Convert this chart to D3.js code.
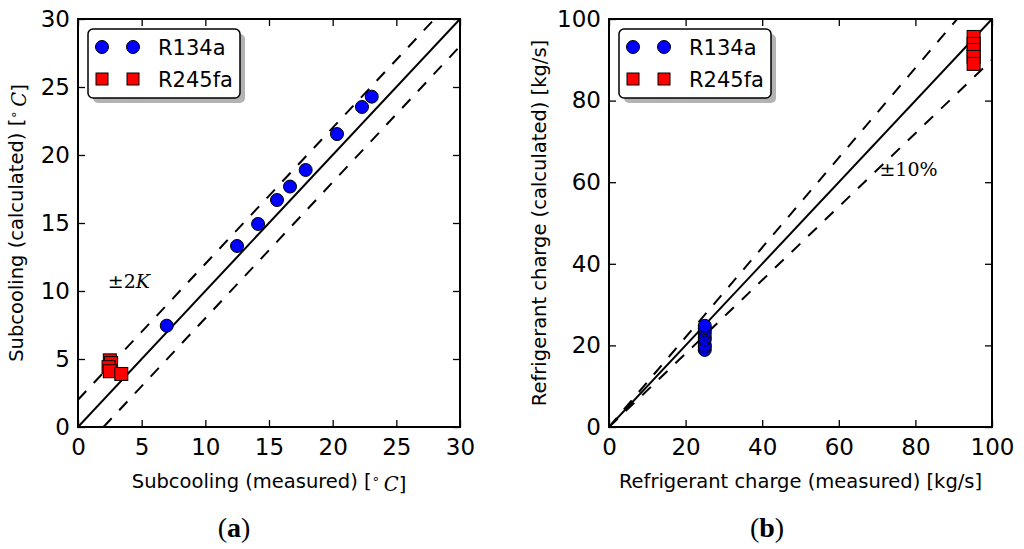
<!DOCTYPE html>
<html>
<head>
<meta charset="utf-8">
<script src="https://cdn.jsdelivr.net/npm/d3@7"></script>
<style>
  body { margin: 0; background: #fff; }
  svg { display: block; }
  text { font-family: "DejaVu Sans", sans-serif; }
</style>
</head>
<body>
<div id="chart"></div>
<script>
// panel (a): subcooling, measured vs calculated [°C]
var subR134aMeas = [6.97, 12.49, 14.14, 15.63, 16.65, 17.88, 20.34, 22.30, 23.07];
var subR134aCalc = [7.45, 13.31, 14.93, 16.69, 17.68, 18.90, 21.54, 23.53, 24.29];
var subR245faMeas = [2.5, 2.6, 2.4, 2.5, 3.4];
var subR245faCalc = [4.9, 4.7, 4.4, 4.1, 3.9];
var subTicks = [0, 5, 10, 15, 20, 25, 30];

// panel (b): refrigerant charge, measured vs calculated [kg/s]
var chgR134aMeas = [25, 25, 25, 25, 25, 25, 25, 25, 25];
var chgR134aCalc = [18.9, 19.6, 20.1, 21.4, 22.0, 22.9, 23.6, 24.2, 24.8];
var chgR245faMeas = [95.2, 95.2, 95.2, 95.2, 95.2];
var chgR245faCalc = [95.6, 93.9, 92.4, 90.7, 89.0];
var chgTicks = [0, 20, 40, 60, 80, 100];

var seriesNames = ["R134a", "R245fa"];

var svgWidth = 1024;
var svgHeight = 549;

var svg = d3.select("#chart")
  .append("svg")
  .attr("width", svgWidth)
  .attr("height", svgHeight);

var plotTop = 19, plotBottom = 427;

function drawPanel(opt) {
  var x = d3.scaleLinear().domain(opt.domain).range([opt.left, opt.right]);
  var y = d3.scaleLinear().domain(opt.domain).range([plotBottom, plotTop]);
  var g = svg.append("g");

  // clip to axes area
  var clipId = "clip-" + opt.id;
  g.append("clipPath").attr("id", clipId)
    .append("rect")
    .attr("x", opt.left).attr("y", plotTop)
    .attr("width", opt.right - opt.left).attr("height", plotBottom - plotTop);

  var plot = g.append("g").attr("clip-path", "url(#" + clipId + ")");

  // reference lines
  var lineGen = d3.line().x(d => x(d[0])).y(d => y(d[1]));
  opt.refLines.forEach(function(l) {
    plot.append("path")
      .attr("d", lineGen(l.pts))
      .attr("fill", "none")
      .attr("stroke", "#000")
      .attr("stroke-width", 2)
      .attr("stroke-dasharray", l.dashed ? "12,11" : null);
  });

  // R245fa squares
  var sq = 13;
  plot.selectAll(".sq")
    .data(opt.sqX.map((v, i) => [v, opt.sqY[i]]))
    .enter()
    .append("rect")
    .attr("x", d => x(d[0]) - sq / 2)
    .attr("y", d => y(d[1]) - sq / 2)
    .attr("width", sq).attr("height", sq)
    .attr("fill", "#ff0000")
    .attr("stroke", "#000")
    .attr("stroke-width", 1);

  // R134a circles
  plot.selectAll(".pt")
    .data(opt.ciX.map((v, i) => [v, opt.ciY[i]]))
    .enter()
    .append("circle")
    .attr("cx", d => x(d[0]))
    .attr("cy", d => y(d[1]))
    .attr("r", 6.5)
    .attr("fill", "#0000ff")
    .attr("stroke", "#000")
    .attr("stroke-width", 1);

  // axes with inward ticks on all four sides
  var tickLen = 7;
  var axB = g.append("g").attr("transform", `translate(0,${plotBottom})`)
    .call(d3.axisBottom(x).tickValues(opt.ticks).tickSizeInner(-tickLen).tickSizeOuter(0).tickPadding(12));
  var axL = g.append("g").attr("transform", `translate(${opt.left},0)`)
    .call(d3.axisLeft(y).tickValues(opt.ticks).tickSizeInner(-tickLen).tickSizeOuter(0).tickPadding(8));
  var axT = g.append("g").attr("transform", `translate(0,${plotTop})`)
    .call(d3.axisTop(x).tickValues(opt.ticks).tickSizeInner(-tickLen).tickSizeOuter(0).tickFormat(""));
  var axR = g.append("g").attr("transform", `translate(${opt.right},0)`)
    .call(d3.axisRight(y).tickValues(opt.ticks).tickSizeInner(-tickLen).tickSizeOuter(0).tickFormat(""));
  [axB, axL, axT, axR].forEach(function(a) {
    a.select(".domain").remove();
    a.selectAll("line").attr("stroke", "#000").attr("stroke-width", 1.3);
    a.selectAll("text")
      .attr("fill", "#000")
      .style("font-family", "DejaVu Sans, sans-serif")
      .style("font-size", "23px");
  });
  axB.selectAll("text").attr("dy", "0.71em");

  // frame
  g.append("rect")
    .attr("x", opt.left).attr("y", plotTop)
    .attr("width", opt.right - opt.left).attr("height", plotBottom - plotTop)
    .attr("fill", "none").attr("stroke", "#000").attr("stroke-width", 2);

  // legend
  var lx = opt.left + 10, ly = plotTop + 10, lw = 152, lh = 69;
  g.append("rect")
    .attr("x", lx + 5).attr("y", ly + 5)
    .attr("width", lw).attr("height", lh)
    .attr("rx", 5).attr("fill", "#b3b3b3");
  g.append("rect")
    .attr("x", lx).attr("y", ly)
    .attr("width", lw).attr("height", lh)
    .attr("rx", 5).attr("fill", "#fff")
    .attr("stroke", "#000").attr("stroke-width", 1.5);
  [lx + 14, lx + 45].forEach(function(mx) {
    g.append("circle").attr("cx", mx).attr("cy", ly + 18).attr("r", 6.5)
      .attr("fill", "#0000ff").attr("stroke", "#000");
    g.append("rect").attr("x", mx - 6).attr("y", ly + 44).attr("width", 12).attr("height", 12)
      .attr("fill", "#ff0000").attr("stroke", "#000");
  });
  seriesNames.forEach(function(name, i) {
    g.append("text")
      .attr("x", lx + 70).attr("y", ly + 26 + i * 32)
      .style("font-size", "21px")
      .text(name);
  });

  // axis labels
  var xl = g.append("text")
    .attr("x", (opt.left + opt.right) / 2).attr("y", 488)
    .attr("text-anchor", "middle")
    .style("font-size", "19.5px");
  opt.xLabel(xl);
  var yl = g.append("text")
    .attr("transform", `translate(${opt.yLabelX},${(plotTop + plotBottom) / 2}) rotate(-90)`)
    .attr("text-anchor", "middle")
    .style("font-size", "19.5px");
  opt.yLabel(yl);

  // annotation
  var ann = g.append("text")
    .attr("x", x(opt.ann.x)).attr("y", y(opt.ann.y))
    .attr("text-anchor", "middle")
    .style("font-family", "DejaVu Serif, serif")
    .style("font-size", "19px");
  opt.ann.fill(ann);

  // subfigure label
  var sl = g.append("text")
    .attr("x", opt.tagX).attr("y", 537)
    .attr("text-anchor", "middle")
    .style("font-family", "Liberation Serif, serif")
    .style("font-size", "28px");
  sl.append("tspan").text("(");
  sl.append("tspan").style("font-weight", "bold").text(opt.tag);
  sl.append("tspan").text(")");
}

function degC(t, prefix) {
  t.append("tspan").text(prefix + " [");
  t.append("tspan").attr("dy", "-0.4em").style("font-size", "13px").text("\u2218");
  t.append("tspan").attr("dy", "0.4em").text("\u2009");
  t.append("tspan")
    .style("font-family", "DejaVu Serif, serif").style("font-style", "italic").text("C");
  t.append("tspan").text("]");
}

drawPanel({
  id: "a", tag: "a", tagX: 234,
  left: 78, right: 460, domain: [0, 30], ticks: subTicks,
  ciX: subR134aMeas, ciY: subR134aCalc,
  sqX: subR245faMeas, sqY: subR245faCalc,
  refLines: [
    { pts: [[0, 0], [30, 30]], dashed: false },
    { pts: [[0, 2], [28, 30]], dashed: true },
    { pts: [[2, 0], [30, 28]], dashed: true }
  ],
  xLabel: t => degC(t, "Subcooling (measured)"),
  yLabel: t => degC(t, "Subcooling (calculated)"),
  yLabelX: 23,
  ann: { x: 4.0, y: 10.2, fill: function(t) {
    t.append("tspan").text("\u00b12");
    t.append("tspan").style("font-style", "italic").text("K");
  } }
});

drawPanel({
  id: "b", tag: "b", tagX: 767,
  left: 609, right: 992, domain: [0, 100], ticks: chgTicks,
  ciX: chgR134aMeas, ciY: chgR134aCalc,
  sqX: chgR245faMeas, sqY: chgR245faCalc,
  refLines: [
    { pts: [[0, 0], [100, 100]], dashed: false },
    { pts: [[0, 0], [100 / 1.1, 100]], dashed: true },
    { pts: [[0, 0], [100, 90]], dashed: true }
  ],
  xLabel: t => t.text("Refrigerant charge (measured) [kg/s]"),
  yLabel: t => t.text("Refrigerant charge (calculated) [kg/s]"),
  yLabelX: 546,
  ann: { x: 78.2, y: 61.5, fill: function(t) {
    t.text("\u00b110%");
  } }
});
</script>
</body>
</html>
